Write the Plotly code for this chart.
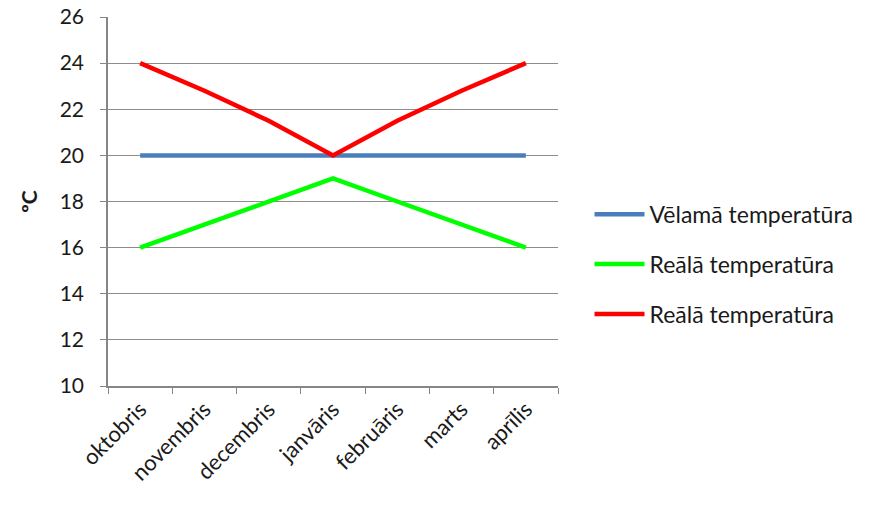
import plotly.graph_objects as go

months = ["oktobris", "novembris", "decembris", "janvāris", "februāris", "marts", "aprīlis"]
desired = [20, 20, 20, 20, 20, 20, 20]
real_low = [16, 17, 18, 19, 18, 17, 16]
real_high = [24, 22.8, 21.5, 20, 21.5, 22.8, 24]

series_names = ["Vēlamā temperatūra", "Reālā temperatūra", "Reālā temperatūra"]
series_values = [desired, real_low, real_high]
series_colors = ["#4A7EBB", "#00FF00", "#FF0000"]

FONT = "Lato, 'Open Sans', sans-serif"
TXT = "#1a1a1a"

fig = go.Figure()
for i, (name, vals, col) in enumerate(zip(series_names, series_values, series_colors)):
    fig.add_trace(go.Scatter(
        x=months, y=vals, name=name, mode="lines",
        line=dict(color=col, width=4.5),
        legendgroup=f"g{i}",
    ))

fig.update_layout(
    width=869, height=505,
    margin=dict(l=108, r=311, t=17, b=119, autoexpand=False),
    paper_bgcolor="white", plot_bgcolor="white",
    font=dict(family=FONT, size=22, color=TXT),
    showlegend=True,
    legend=dict(
        x=1.07, y=0.33, xanchor="left", yanchor="middle",
        font=dict(family=FONT, size=23, color=TXT),
        tracegroupgap=17, itemwidth=50,
        bgcolor="rgba(0,0,0,0)",
    ),
    xaxis=dict(
        type="category", range=[-0.5, 6.5], automargin=False,
        showline=True, linecolor="#868686", linewidth=1.5,
        ticks="outside", tickson="boundaries", ticklen=6, tickcolor="#868686",
        tickangle=-45, showgrid=False,
        tickfont=dict(family=FONT, size=22, color=TXT),
    ),
    yaxis=dict(
        range=[10, 26], dtick=2, tick0=10, automargin=False,
        showline=True, linecolor="#868686", linewidth=1.5,
        ticks="outside", ticklen=6, tickcolor="#868686",
        showgrid=True, gridcolor="#8C8C8C", gridwidth=1,
        zeroline=False,
        ticklabelstandoff=12,
        tickfont=dict(family=FONT, size=21, color=TXT),
        title=dict(text="<b>ºC</b>", standoff=16,
                   font=dict(family=FONT, size=21, color=TXT)),
    ),
)

fig.write_html("out.html")
